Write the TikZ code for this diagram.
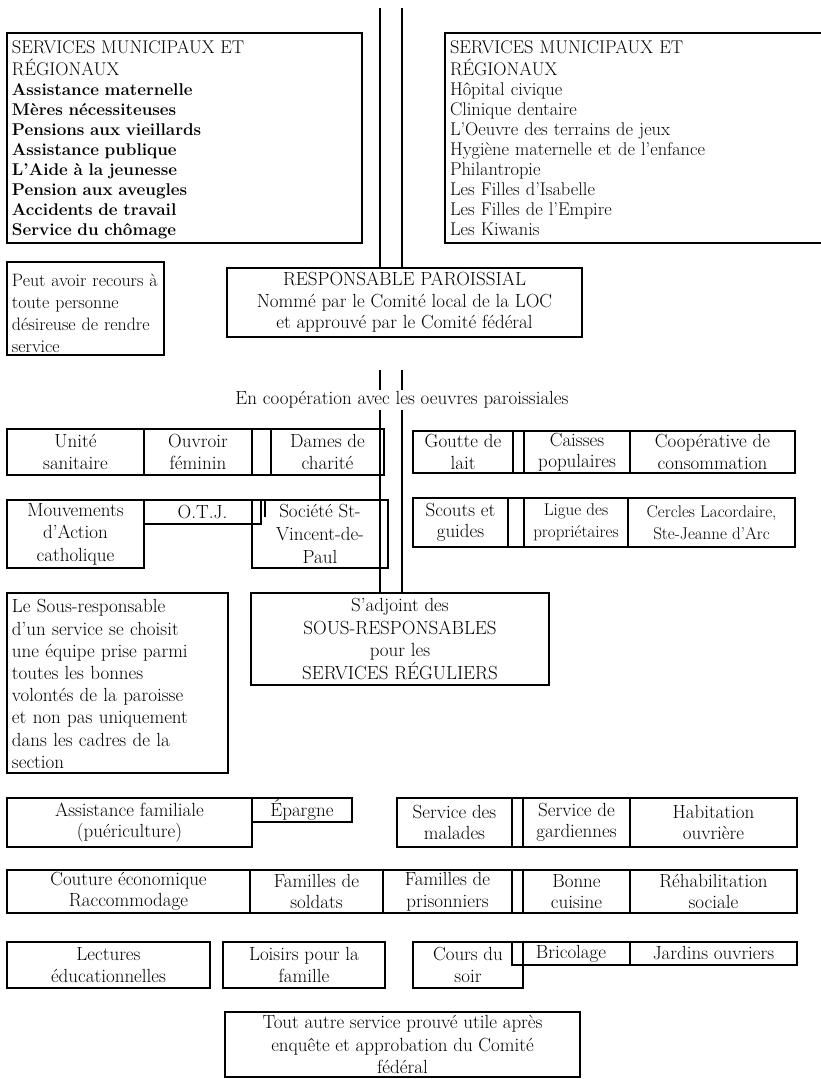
\documentclass[tikz,border=0pt]{standalone}
\newcommand{\cellbox}[7]{%
  \pgfmathsetmacro\cbw{#5-#3}\pgfmathsetmacro\cbh{#6-#4}%
  \node[cell,minimum width=\cbw pt,minimum height=\cbh pt,#1] (#2) at ({(#3+#5)/2},{(#4+#6)/2}) {#7};}
% left-aligned box: #1 text style, #2 name, #3 x1, #4 y1, #5 x2, #6 y2, #7 top offset of text, #8 text
\newcommand{\leftbox}[8]{%
  \pgfmathsetmacro\cbw{#5-#3}\pgfmathsetmacro\cbh{#6-#4}\pgfmathsetmacro\cbt{#5-#3-10}%
  \node[lbox,minimum width=\cbw pt,minimum height=\cbh pt,
    label={[anchor=north west,xshift=5pt,yshift=-#7pt,align=left,text width=\cbt pt,#1]north west:{#8}}] (#2) at (#3,#4) {};}
\newcommand{\hdr}[1]{{\mdseries\fontsize{18.4}{20}\selectfont #1}}
\begin{document}
\begin{tikzpicture}[x=1pt,y=-1pt,
  every node/.style={inner sep=0pt,outer sep=0pt},
  every label/.style={inner sep=0pt,outer sep=0pt},
  cell/.style={draw,line width=1.6pt,align=center,font=\fontsize{19}{21.5}\selectfont},
  lbox/.style={draw,line width=1.6pt,anchor=north west},
  conn/.style={line width=1.6pt},
  big/.style={font=\fontsize{19}{22.6}\selectfont},
  small/.style={font=\fontsize{17}{21.5}\selectfont}]
\useasboundingbox (0,0) rectangle (820,1079);
\fill[white] (0,0) rectangle (820,1079);

% top boxes
\leftbox{font=\fontsize{17}{20}\selectfont\bfseries}{svcL}{7}{33}{362}{243}{7.7}{\hdr{SERVICES MUNICIPAUX ET}\\[2pt]\hdr{RÉGIONAUX}\\Assistance maternelle\\Mères nécessiteuses\\Pensions aux vieillards\\Assistance publique\\L'Aide à la jeunesse\\Pension aux aveugles\\Accidents de travail\\Service du chômage}
\leftbox{font=\fontsize{18.4}{20}\selectfont}{svcR}{445}{33}{826}{243}{7.7}{SERVICES MUNICIPAUX ET\\[2pt]RÉGIONAUX\\Hôpital civique\\Clinique dentaire\\L'Oeuvre des terrains de jeux\\Hygiène maternelle et de l'enfance\\Philantropie\\Les Filles d'Isabelle\\Les Filles de l'Empire\\Les Kiwanis}

\leftbox{font=\fontsize{17.9}{22}\selectfont,text width=160pt}{peut}{7}{262}{164}{355}{12.3}{Peut avoir recours à\\toute personne\\désireuse de rendre\\service}
\cellbox{}{resp}{227}{268}{582}{337}{RESPONSABLE PAROISSIAL\\Nommé par le Comité local de la LOC\\et approuvé par le Comité fédéral}

\node[font=\fontsize{19}{21}\selectfont,inner ysep=1.5pt] (coopt) at (402,400) {En coopération avec les oeuvres paroissiales};

% row 1
\cellbox{}{unite}{7}{429}{144}{475}{Unité\\sanitaire}
\cellbox{}{ouvroir}{144}{429}{252}{475}{Ouvroir\\féminin}
\cellbox{}{gapa}{252}{429}{271}{475}{}
\cellbox{}{dames}{271}{429}{384}{475}{Dames de\\charité}
\cellbox{}{goutte}{413}{431}{513}{473}{Goutte de\\lait}
\cellbox{}{gapb}{513}{431}{524}{473}{}
\cellbox{}{caisses}{524}{431}{630}{473}{Caisses\\populaires}
\cellbox{}{coopcons}{630}{431}{795}{473}{Coopérative de\\consommation}

% row 2
\cellbox{big}{mouv}{7}{500}{144}{568}{Mouvements\\d'Action\\catholique}
\cellbox{big}{svp}{252}{500}{388}{568}{Société St-\\Vincent-de-\\Paul}
\cellbox{}{otj}{144}{500}{261}{524}{O.T.J.}
\draw[conn] (svp.north west) ++(13,0) -- ++(0,17);
\cellbox{}{scouts}{413}{498}{508}{547}{Scouts et\\guides}
\cellbox{}{gapc}{508}{498}{524}{547}{}
\cellbox{small}{ligue}{524}{498}{628}{547}{Ligue des\\propriétaires}
\cellbox{small}{cercles}{628}{498}{795}{547}{Cercles Lacordaire,\\Ste-Jeanne d'Arc}

% sous-responsables
\leftbox{font=\fontsize{19}{22.2}\selectfont}{sousresp}{7}{593}{228}{773}{6.7}{Le Sous-responsable\\d'un service se choisit\\une équipe prise parmi\\toutes les bonnes\\volontés de la paroisse\\et non pas uniquement\\dans les cadres de la\\section}
\cellbox{big}{sous}{251}{593}{549}{685}{S'adjoint des\\SOUS-RESPONSABLES\\pour les\\SERVICES RÉGULIERS}

% row A
\cellbox{}{assist}{7}{798}{252}{847}{Assistance familiale\\(puériculture)}
\cellbox{}{epargne}{252}{798}{352}{822}{Épargne}
\cellbox{}{malades}{397}{798}{512}{847}{Service des\\malades}
\cellbox{}{gapd}{512}{798}{523}{847}{}
\cellbox{}{gard}{523}{798}{630}{847}{Service de\\gardiennes}
\cellbox{}{habit}{630}{798}{797}{847}{Habitation\\ouvrière}

% row B
\cellbox{}{couture}{7}{870}{250}{913}{Couture économique\\Raccommodage}
\cellbox{}{soldats}{250}{870}{383}{913}{Familles de\\soldats}
\cellbox{}{prison}{383}{870}{512}{913}{Familles de\\prisonniers}
\cellbox{}{gape}{512}{870}{523}{913}{}
\cellbox{}{cuisine}{523}{870}{630}{913}{Bonne\\cuisine}
\cellbox{}{rehab}{630}{870}{797}{913}{Réhabilitation\\sociale}

% row C
\cellbox{}{lect}{7}{942}{210}{988}{Lectures\\éducationnelles}
\cellbox{}{loisirs}{223}{942}{385}{988}{Loisirs pour la\\famille}
\cellbox{}{cours}{413}{942}{523}{988}{Cours du\\soir}
\cellbox{}{brico}{512}{942}{630}{965}{Bricolage}
\cellbox{}{jardins}{630}{942}{797}{965}{Jardins ouvriers}

\cellbox{big}{tout}{225}{1012}{580}{1077}{Tout autre service prouvé utile après\\enquête et approbation du Comité\\fédéral}

% connectors
\coordinate (tL) at (380,8);
\coordinate (tR) at (402,8);
\coordinate (kL) at (380,370);
\coordinate (kR) at (402,370);
\draw[conn] (tL) -- (tL |- resp.north);
\draw[conn] (tR) -- (tR |- resp.north);
\draw[conn] (kL) -- (kL |- coopt.north);
\draw[conn] (kR) -- (kR |- coopt.north);
\draw[conn] (coopt.south -| kL) -- (kL |- sous.north);
\draw[conn] (coopt.south -| kR) -- (kR |- sous.north);
\end{tikzpicture}
\end{document}
